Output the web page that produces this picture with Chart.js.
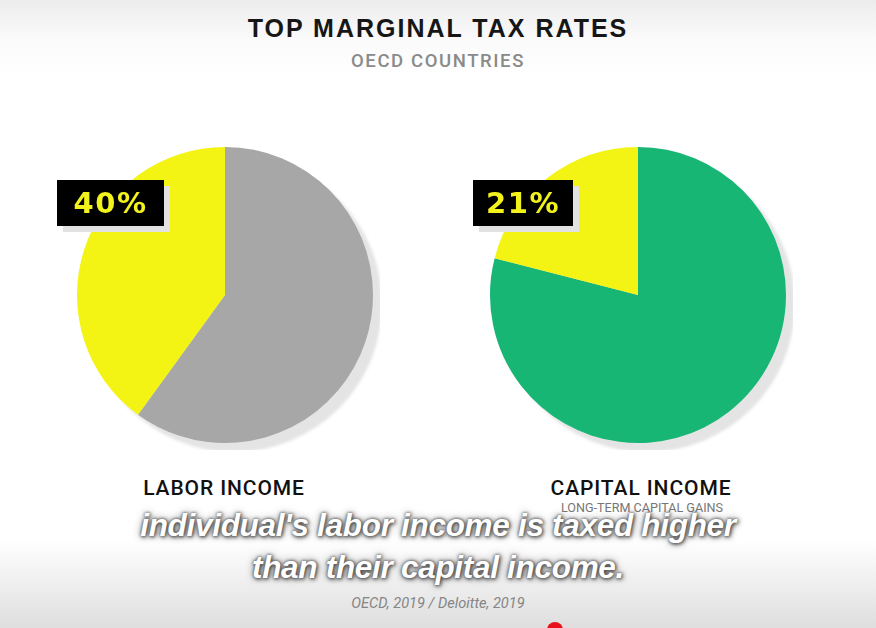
<!DOCTYPE html>
<html>
<head>
<meta charset="utf-8">
<script src="https://cdn.jsdelivr.net/npm/chart.js@4.4.1/dist/chart.umd.min.js"></script>
<style>
  html, body { margin: 0; padding: 0; }
  body {
    width: 876px; height: 628px; position: relative; overflow: hidden;
    background: linear-gradient(to bottom, #ececec 0px, #fbfbfb 40px, #ffffff 80px, #ffffff 540px, #f0f0f0 580px, #dedede 628px);
    font-family: "Liberation Sans", Arial, sans-serif;
  }
  .abs { position: absolute; }
  #title { left: 0; width: 876px; top: 14px; text-align: center; font-weight: bold; font-size: 25px; letter-spacing: 2px; color: #161616; }
  #sub { left: 0; width: 876px; top: 50px; text-align: center; font-family: Roboto, sans-serif; font-weight: 500; font-size: 18.5px; letter-spacing: 1.6px; color: #8a8a8a; }
  canvas { position: absolute; }
  .box { background: #000; color: #f2f21c; font-family: "DejaVu Sans", sans-serif; font-weight: bold; font-size: 29px; letter-spacing: 1.5px; text-align: center; line-height: 46px; height: 46px; box-shadow: 6px 6px 0 #e2e2e2; }
  .lab { font-family: Roboto, sans-serif; font-weight: 500; font-size: 21px; letter-spacing: 0.9px; color: #111; text-align: center; }
  #note { font-family: Roboto, sans-serif; font-size: 12.6px; color: #777; text-align: center; }
  .cap { left: 0; width: 876px; text-align: center; font-weight: bold; font-style: italic; font-size: 31.5px; color: #fff; letter-spacing: -0.3px;
         text-shadow: 0 0 3px #555, 1px 1px 4px #333, 0 0 8px rgba(0,0,0,0.45); }
  #src { left: 0; width: 876px; top: 594px; text-align: center; font-family: Roboto, sans-serif; font-style: italic; font-size: 14.6px; color: #858585; }
  #dot { left: 547px; top: 622px; width: 16px; height: 16px; border-radius: 8px; background: #e8101a; }
</style>
</head>
<body>
<div id="title" class="abs">TOP MARGINAL TAX RATES</div>
<div id="sub" class="abs">OECD COUNTRIES</div>

<canvas id="pieLabor" width="310" height="310" style="left:70px; top:140px;"></canvas>
<canvas id="pieCapital" width="310" height="310" style="left:483px; top:140px;"></canvas>

<div id="boxLabor" class="abs box" style="left:57px; top:180px; width:107px;"></div>
<div id="boxCapital" class="abs box" style="left:473px; top:180px; width:100px;"></div>

<div class="abs lab" style="left:104px; width:240px; top:476px;">LABOR INCOME</div>
<div class="abs lab" style="left:521px; width:240px; top:476px;">CAPITAL INCOME</div>
<div id="note" class="abs" style="left:522px; width:240px; top:500px;">LONG-TERM CAPITAL GAINS</div>

<div class="abs cap" style="top:507px;">individual's labor income is taxed higher</div>
<div class="abs cap" style="top:549px;">than their capital income.</div>
<div id="src" class="abs">OECD, 2019 / Deloitte, 2019</div>
<div id="dot" class="abs"></div>

<script>
// datos
const categorias = ['Labor income', 'Capital income'];
const tasaMarginal = [40, 21];          // % tasa marginal superior
const coloresResto = ['#a7a7a7', '#18b675'];
const colorTasa = '#f4f414';

// sombra gris detras de cada pastel
const sombraPlugin = {
    id: 'sombra',
    beforeDatasetsDraw(chart) {
        const arco = chart.getDatasetMeta(0).data[0];
        if (!arco) return;
        const ctx = chart.ctx;
        ctx.save();
        ctx.beginPath();
        ctx.arc(arco.x + 9, arco.y + 9, arco.outerRadius, 0, Math.PI * 2);
        ctx.fillStyle = '#e4e4e4';
        ctx.filter = 'blur(1.5px)';
        ctx.fill();
        ctx.restore();
    }
};

const crearPastel = (id, i) => {
    const context = document.getElementById(id).getContext('2d');
    return new Chart(context, {
        type : 'pie',
        data : {
            labels : ['Resto', categorias[i]],
            datasets : [
                {
                    data : [100 - tasaMarginal[i], tasaMarginal[i]],
                    backgroundColor : [coloresResto[i], colorTasa],
                    borderWidth : 0
                }
            ]
        },
        options : {
            responsive : false,
            animation : false,
            layout : { padding : 7 },
            plugins : {
                legend : { display : false },
                tooltip : { enabled : false }
            }
        },
        plugins : [sombraPlugin]
    });
};

crearPastel('pieLabor', 0);
crearPastel('pieCapital', 1);

document.getElementById('boxLabor').textContent = tasaMarginal[0] + '%';
document.getElementById('boxCapital').textContent = tasaMarginal[1] + '%';
</script>
</body>
</html>
